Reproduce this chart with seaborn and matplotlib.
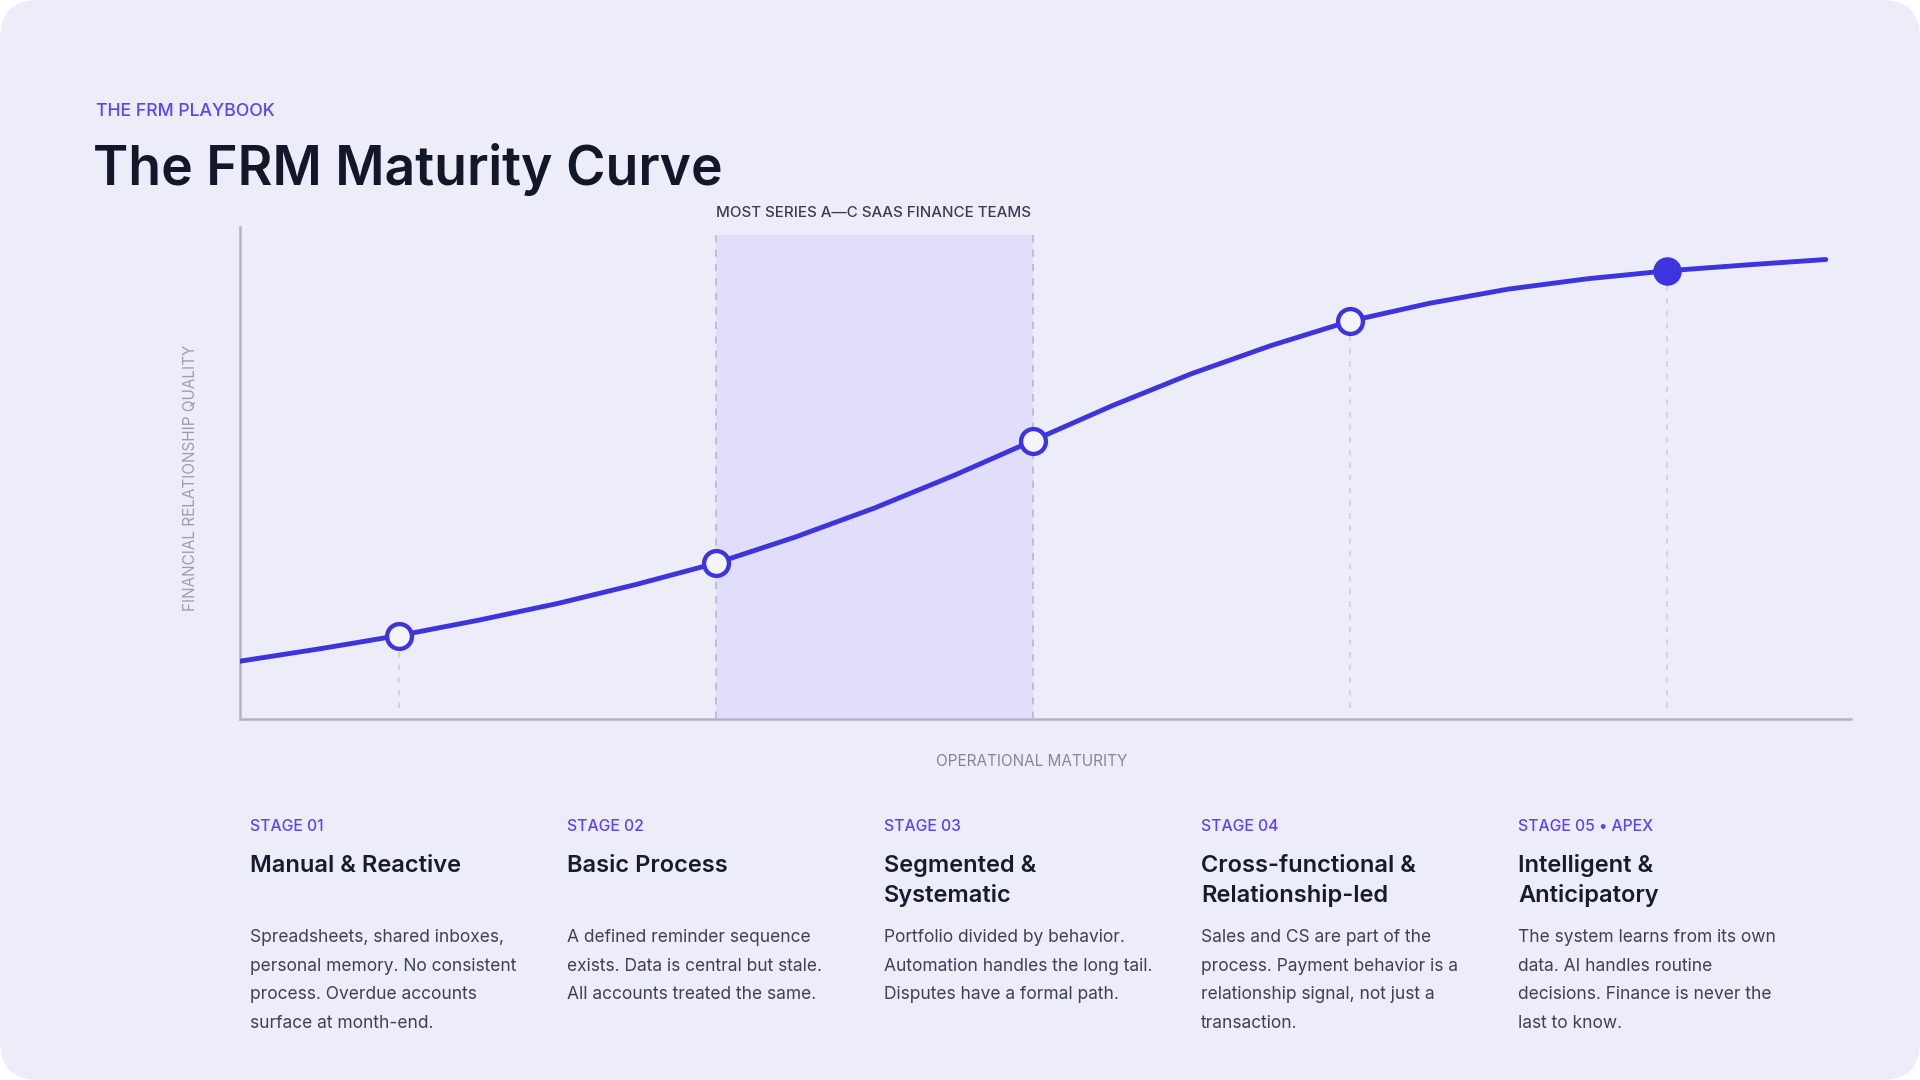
import pandas as pd
import seaborn as sns
import matplotlib.pyplot as plt
from matplotlib.patches import FancyBboxPatch
from matplotlib.transforms import IdentityTransform

# DATA (x = stage position, y = quality on 0-100)
curve_x = [0.5, 0.75, 1.0, 1.25, 1.5, 1.75, 2.0, 2.25, 2.5, 2.75, 3.0,
           3.25, 3.5, 3.75, 4.0, 4.25, 4.5, 4.75, 5.0, 5.25, 5.5]
curve_y = [11.7, 14.2, 16.9, 20.0, 23.4, 27.3, 31.6, 36.9, 42.8, 49.4, 56.5,
           63.6, 70.1, 75.8, 80.8, 84.4, 87.3, 89.4, 91.0, 92.2, 93.3]
stage_x = [1, 2, 3, 4, 5]
stage_y = [16.9, 31.6, 56.5, 80.8, 91.0]
band_start, band_end, band_top = 2, 3, 98.3

stage_tags = ['STAGE 01', 'STAGE 02', 'STAGE 03', 'STAGE 04', 'STAGE 05 \u2022 APEX']
stage_names = ['Manual & Reactive', 'Basic Process', 'Segmented &\nSystematic',
               'Cross-functional &\nRelationship-led', 'Intelligent &\nAnticipatory']
stage_notes = [
    'Spreadsheets, shared inboxes,\npersonal memory. No consistent\nprocess. Overdue accounts\nsurface at month-end.',
    'A defined reminder sequence\nexists. Data is central but stale.\nAll accounts treated the same.',
    'Portfolio divided by behavior.\nAutomation handles the long tail.\nDisputes have a formal path.',
    'Sales and CS are part of the\nprocess. Payment behavior is a\nrelationship signal, not just a\ntransaction.',
    'The system learns from its own\ndata. AI handles routine\ndecisions. Finance is never the\nlast to know.',
]

# COLOURS
BG = '#EDECF9'
BLUE = '#3B34E0'
PURPLE = '#5A45F2'
BAND = '#E0DEFA'
SPINE = '#B3B2CB'
INK = '#121829'

sns.set_theme(style='white')
plt.rcParams['font.family'] = ['Inter', 'DejaVu Sans']

W, H = 1568, 882  # layout grid the positions below are measured on


def ftext(x, y, s, **kw):
    fig.text(x / W, 1 - y / H, s, **kw)


fig = plt.figure(figsize=(19.2, 10.8), dpi=100, facecolor='white')
card = FancyBboxPatch((0, 0), 1920, 1080, boxstyle='round,pad=0,rounding_size=38',
                      transform=IdentityTransform(), fc=BG, ec='none', zorder=-10)
fig.patches.append(card)

ax = fig.add_axes([196 / W, 1 - 587 / H, (1512 - 196) / W, (587 - 185) / H])
ax.set_facecolor('none')

# band of typical teams
ax.axvspan(band_start, band_end, ymin=0, ymax=band_top / 100, color=BAND, lw=0, zorder=0)
for bx in [band_start, band_end]:
    ax.vlines(bx, 0, band_top, color='#BDBCCD', lw=1.3, linestyles=(0, (4, 4)), zorder=1)
ax.text(band_start, 102.7, 'MOST SERIES A\u2014C SAAS FINANCE TEAMS', ha='left', va='center',
        fontsize=10.9, color='#3C3C50', fontweight='medium', clip_on=False)

# guides under the other stages
for sx, sy in zip(stage_x, stage_y):
    if sx in (band_start, band_end):
        continue
    ax.vlines(sx, 2.2, sy, color='#D0CFE3', lw=1.3, linestyles=(0, (3, 4)), zorder=1)

curve_df = pd.DataFrame({'x': curve_x, 'y': curve_y})
sns.lineplot(data=curve_df, x='x', y='y', ax=ax, color=BLUE, lw=3.5, zorder=3,
             solid_joinstyle='round', solid_capstyle='round')

stage_df = pd.DataFrame({'x': stage_x, 'y': stage_y})
sns.scatterplot(data=stage_df.iloc[:-1], x='x', y='y', ax=ax, s=320, color='#F4F4FD',
                edgecolor=BLUE, linewidth=3.1, zorder=4)
sns.scatterplot(data=stage_df.iloc[-1:], x='x', y='y', ax=ax, s=380, color=BLUE,
                edgecolor=BLUE, linewidth=1, zorder=4)

ax.set_xlim(0.5, 5.581)
ax.set_ylim(0, 100)
ax.set_xticks([])
ax.set_yticks([])
for side in ['top', 'right']:
    ax.spines[side].set_visible(False)
for side in ['left', 'bottom']:
    ax.spines[side].set_color(SPINE)
    ax.spines[side].set_linewidth(1.8)

ax.set_xlabel('OPERATIONAL MATURITY', fontsize=11, color='#85859A')
ax.xaxis.set_label_coords(0.491, -0.072)
ax.set_ylabel('FINANCIAL RELATIONSHIP QUALITY', fontsize=11, color='#9C9CB2')
ax.yaxis.set_label_coords(-0.026, 0.49)

# header
ftext(78, 95, 'THE FRM PLAYBOOK', fontsize=12.7, color=PURPLE, fontweight='medium', va='baseline')
ftext(76, 151, 'The FRM Maturity Curve', fontsize=38.5, color=INK, fontweight='semibold', va='baseline')

# stage cards
for i in range(5):
    x0 = 204 + i * 259
    ftext(x0, 679, stage_tags[i], fontsize=11.3, color=PURPLE, fontweight='medium', va='baseline')
    for j, line in enumerate(stage_names[i].split('\n')):
        ftext(x0, 712 + j * 25, line, fontsize=17, color='#161B2E', fontweight='semibold', va='baseline')
    for j, line in enumerate(stage_notes[i].split('\n')):
        ftext(x0, 769 + j * 23.6, line, fontsize=12.5, color='#3E4054', va='baseline')

plt.savefig('out.png', dpi=100)
